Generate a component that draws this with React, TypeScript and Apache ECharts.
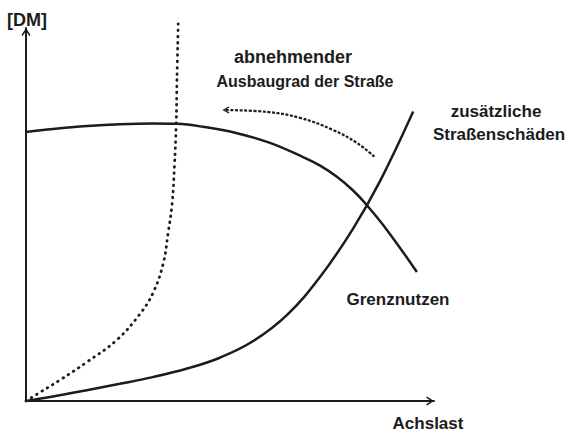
import React, { useEffect, useRef } from 'react';
import * as echarts from 'echarts';

// Grenznutzen (marginal benefit) curve: [Achslast, DM]
const grenznutzen: [number, number][] = [
  [0, 72.1], [6.6, 72.9], [15.0, 73.7], [23.0, 74.2], [31.1, 74.4], [37.0, 74.3],
  [43.4, 73.5], [51.7, 71.8], [59.8, 69.2], [67.9, 65.4], [72.1, 63.1],
  [76.2, 60.1], [80.1, 56.5], [83.3, 52.8], [88.5, 45.8], [95.8, 34.6],
];

// zusätzliche Straßenschäden (additional road damage)
const strassenschaeden: [number, number][] = [
  [0, 0], [6.6, 1.2], [14.9, 2.9], [23.0, 4.6], [31.1, 6.4], [39.5, 8.7],
  [47.5, 11.6], [55.6, 16.0], [64.0, 23.1], [72.1, 33.3], [80.1, 46.1],
  [86.8, 59.0], [94.9, 77.6],
];

// dotted curve: damage at a lower road standard
const schaedenNiedrig: [number, number][] = [
  [0, 0], [3.4, 2.3], [8.3, 5.6], [15.0, 10.5], [22.3, 16.4], [27.9, 23.3],
  [31.1, 28.9], [33.6, 36.7], [34.8, 44.8], [35.8, 52.8], [36.4, 63.3],
  [36.8, 74.0], [37.0, 86.1], [37.3, 101.1],
];

// dashed arrow "abnehmender Ausbaugrad der Straße"
const pfeil: [number, number][] = [
  [49.0, 78.0], [59.1, 77.5], [67.2, 75.9], [75.2, 72.7], [81.1, 69.2], [85.5, 65.4],
];

const axisNames = ['Achslast', '[DM]'];
const curveLabels = ['Grenznutzen', 'zusätzliche', 'Straßenschäden'];
const arrowLabels = ['abnehmender', 'Ausbaugrad der Straße'];

const INK = '#1c1c1c';
const FONT = '"Liberation Sans", Arial, sans-serif';
const CHEVRON = 'path://M5,0 L10,7.6 L8.6,8.7 L5,3.0 L1.4,8.7 L0,7.6 Z';

function txt(text: string, x: number, y: number, size: number) {
  return {
    type: 'text',
    x,
    y,
    silent: true,
    style: {
      text,
      fill: INK,
      fontSize: size,
      fontWeight: 'bold',
      fontFamily: FONT,
      align: 'center',
      verticalAlign: 'middle',
    },
  };
}

export default function App() {
  const ref = useRef<HTMLDivElement>(null);

  useEffect(() => {
    if (!ref.current) return;
    const chart = echarts.init(ref.current, undefined, { renderer: 'svg' });

    const axisCommon = {
      type: 'value',
      min: 0,
      max: 100,
      axisLine: {
        show: true,
        onZero: false,
        symbol: ['none', CHEVRON],
        symbolSize: [9, 8],
        symbolOffset: [0, -4],
        lineStyle: { color: INK, width: 2 },
      },
      axisTick: { show: false },
      axisLabel: { show: false },
      splitLine: { show: false },
    };

    const option = {
      animation: false,
      backgroundColor: '#ffffff',
      grid: { left: 26, top: 28, right: 135, bottom: 31, containLabel: false },
      xAxis: { ...axisCommon },
      yAxis: { ...axisCommon },
      series: [
        {
          name: curveLabels[0],
          type: 'line',
          data: grenznutzen,
          smooth: 0.4,
          symbol: 'none',
          lineStyle: { color: INK, width: 2.5 },
        },
        {
          name: curveLabels[1] + ' ' + curveLabels[2],
          type: 'line',
          data: strassenschaeden,
          smooth: 0.4,
          symbol: 'none',
          lineStyle: { color: INK, width: 2.5 },
        },
        {
          name: 'niedriger Ausbaugrad',
          type: 'line',
          data: schaedenNiedrig,
          smooth: 0.4,
          symbol: 'none',
          clip: false,
          lineStyle: { color: INK, width: 2.8, type: [0.6, 5.6], cap: 'round' },
        },
        {
          name: arrowLabels.join(' '),
          type: 'line',
          smooth: 0.4,
          showSymbol: true,
          symbol: 'none',
          data: pfeil.map((p, i) =>
            i === 0
              ? { value: p, symbol: CHEVRON, symbolSize: [7, 7], symbolRotate: 90, itemStyle: { color: INK } }
              : { value: p, symbol: 'none' }
          ),
          itemStyle: { color: INK },
          lineStyle: { color: INK, width: 2.2, type: [3, 1.6] },
        },
      ],
      graphic: [
        txt(axisNames[1], 27, 20, 18),
        txt(axisNames[0], 428, 423, 17),
        txt(curveLabels[0], 398, 299, 17),
        txt(curveLabels[1], 496, 111, 17),
        txt(curveLabels[2], 499, 134, 17),
        txt(arrowLabels[0], 293, 57, 18),
        txt(arrowLabels[1], 305, 81, 16),
      ],
    };

    chart.setOption(option as any);
    return () => chart.dispose();
  }, []);

  return (
    <div
      ref={ref}
      style={{ position: 'fixed', left: 0, top: 0, width: 569, height: 432, background: '#fff' }}
    />
  );
}
